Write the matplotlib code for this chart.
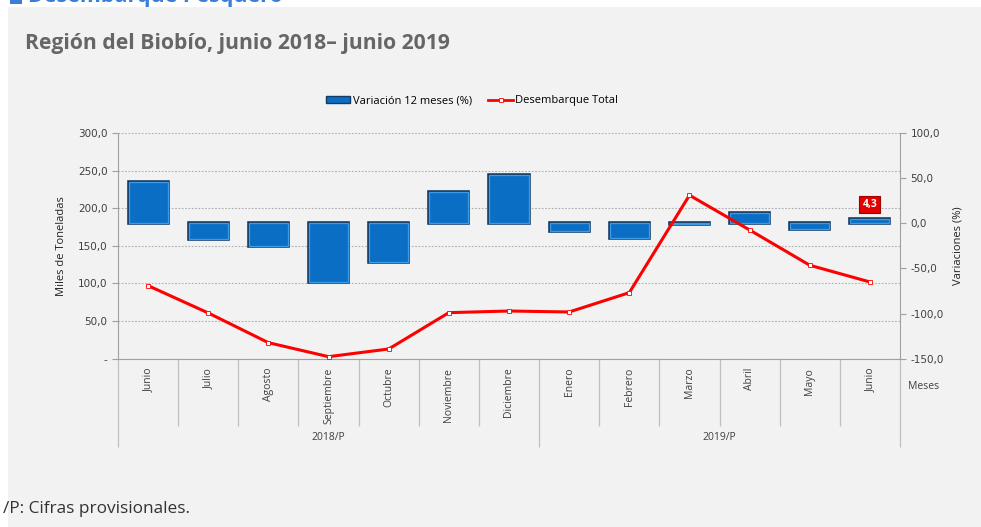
import matplotlib
matplotlib.use("Agg")
import matplotlib.pyplot as plt
import matplotlib.patheffects as pe
from matplotlib.patches import Rectangle, Patch
from matplotlib.lines import Line2D
from matplotlib.ticker import FuncFormatter, FixedLocator

# data
meses = ["Junio", "Julio", "Agosto", "Septiembre", "Octubre", "Noviembre",
         "Diciembre", "Enero", "Febrero", "Marzo", "Abril", "Mayo", "Junio"]
grupos = ["2018/P", "2019/P"]
n_por_grupo = [7, 6]
desembarque = [97.1, 60.8, 21.3, 2.7, 12.9, 61.2, 63.4, 62.1, 87.8,
               217.3, 171.1, 124.2, 102.0]          # miles de toneladas
variacion = [45.8, -17.0, -24.8, -65.0, -42.5, 34.4, 53.9, -8.2, -16.3,
             -0.6, 11.0, -6.3, 4.3]                  # %
left_ticks = [0, 50, 100, 150, 200, 250, 300]
right_ticks = [-150, -100, -50, 0, 50, 100]

W, H = 981, 527
fig = plt.figure(figsize=(W / 100, H / 100), dpi=100)
fig.patch.set_facecolor("white")
fig.patches.append(Rectangle((8 / W, 0), 1, 1 - 7 / H, transform=fig.transFigure,
                             facecolor="#F2F2F2", edgecolor="none", zorder=-10))

font = "Open Sans"
txt = "#404040"

# page headers (section heading is cut at the top edge, as in the source page)
fig.patches.append(Rectangle((10 / W, 1 - 4 / H), 12 / W, 10 / H, transform=fig.transFigure,
                             facecolor="#3C7DD9", edgecolor="none", zorder=-5))
fig.text(28 / W, 1 - 2 / H, "Desembarque Pesquero", fontsize=15.5, weight="bold",
         color="#3C7DD9", family=font, va="baseline")
fig.text(25 / W, 1 - 44 / H, "Región del Biobío, junio 2018– junio 2019", fontsize=15.2,
         weight="bold", color="#666666", family=font, va="center")
fig.text(3 / W, 1 - 509 / H, "/P: Cifras provisionales.", fontsize=12.4,
         color="#333333", family=font, va="center")

x0, x1, y0, y1 = 118, 900, 358.7, 133
rect = [x0 / W, 1 - y0 / H, (x1 - x0) / W, (y0 - y1) / H]
x = list(range(len(meses)))

# base axes: left scale, grid
ax = fig.add_axes(rect)
ax.set_facecolor("none")
ax.set_xlim(-0.5, len(meses) - 0.5)
ax.set_ylim(0, 300)
ax.yaxis.set_major_locator(FixedLocator(left_ticks))
ax.yaxis.set_major_formatter(FuncFormatter(
    lambda v, p: "-" if v == 0 else f"{v:.1f}".replace(".", ",")))
ax.grid(axis="y", color="#AFAFAF", linestyle=(0, (1.5, 1.5)), linewidth=0.8)
ax.tick_params(axis="y", labelsize=7.5, colors=txt, length=4, color="#A0A0A0")
for s in ["top", "right"]:
    ax.spines[s].set_visible(False)
for s in ["left", "bottom"]:
    ax.spines[s].set_color("#A0A0A0")
ax.set_ylabel("Miles de Toneladas", fontsize=8, color="#222222", family=font, labelpad=8)

# category separators as ticks
bounds = [i - 0.5 for i in range(len(meses) + 1)]
group_edges = [-0.5]
for n in n_por_grupo:
    group_edges.append(group_edges[-1] + n)
ax.set_xticks(group_edges)
ax.set_xticklabels([])
ax.set_xticks([b for b in bounds if b not in group_edges], minor=True)
ax.tick_params(axis="x", which="major", length=63, color="#C0C0C0", width=0.9)
ax.tick_params(axis="x", which="minor", length=48, color="#C0C0C0", width=0.9)

xt = ax.get_xaxis_transform()
for i, m in enumerate(meses):
    ax.text(i, -0.04, m, rotation=90, ha="center", va="top", fontsize=7.5,
            color=txt, family=font, transform=xt)
for g, a, b in zip(grupos, group_edges[:-1], group_edges[1:]):
    ax.text((a + b) / 2, -0.35, g, ha="center", va="center", fontsize=7.5,
            color=txt, family=font, transform=xt)
ax.text(1.01, -0.125, "Meses", ha="left", va="center", fontsize=7.5, color=txt,
        family=font, transform=ax.transAxes)

# bars on right scale
ax2 = ax.twinx()
ax2.set_ylim(-150, 100)
ax2.yaxis.set_major_locator(FixedLocator(right_ticks))
ax2.yaxis.set_major_formatter(FuncFormatter(lambda v, p: f"{v:.1f}".replace(".", ",")))
ax2.tick_params(axis="y", labelsize=7.5, colors=txt, length=4, color="#A0A0A0")
for s in ["top", "left", "bottom"]:
    ax2.spines[s].set_visible(False)
ax2.spines["right"].set_color("#A0A0A0")
ax2.set_ylabel("Variaciones (%)", fontsize=8, color="#222222", family=font, labelpad=6)
bars = ax2.bar(x, variacion, width=0.65, color="#0A6FC4", edgecolor="#3E9BE6",
               linewidth=0.9, zorder=2)
for b in bars:
    b.set_path_effects([pe.Stroke(linewidth=2.6, foreground="#163A62"), pe.Normal()])
ax2.annotate(f"{variacion[-1]:.1f}".replace(".", ","), (x[-1], variacion[-1]),
             xytext=(0, 7), textcoords="offset points", ha="center", va="bottom",
             fontsize=7.5, color="white", weight="bold", family=font,
             bbox=dict(boxstyle="square,pad=0.3", fc="#E10000", ec="#A00000", lw=0.8))

# line on left scale, drawn above bars
ax3 = ax.twinx()
ax3.set_ylim(0, 300)
ax3.axis("off")
ax3.plot(x, desembarque, color="#FF0000", linewidth=2.2, marker="s", markersize=3,
         markerfacecolor="white", markeredgecolor="#FF0000", markeredgewidth=0.6)

handles = [Patch(facecolor="#0A6FC4", edgecolor="#163A62"),
           Line2D([], [], color="#FF0000", lw=2, marker="s", markersize=3,
                  markerfacecolor="white", markeredgewidth=0.6)]
fig.legend(handles, ["Variación 12 meses (%)", "Desembarque Total"],
           loc="center", bbox_to_anchor=(472 / W, 1 - 101 / H), ncol=2, frameon=False,
           prop={"family": font, "size": 8}, handlelength=2.2, handleheight=0.6,
           handletextpad=0.2, columnspacing=1.5)

fig.savefig("out.png", dpi=100)
